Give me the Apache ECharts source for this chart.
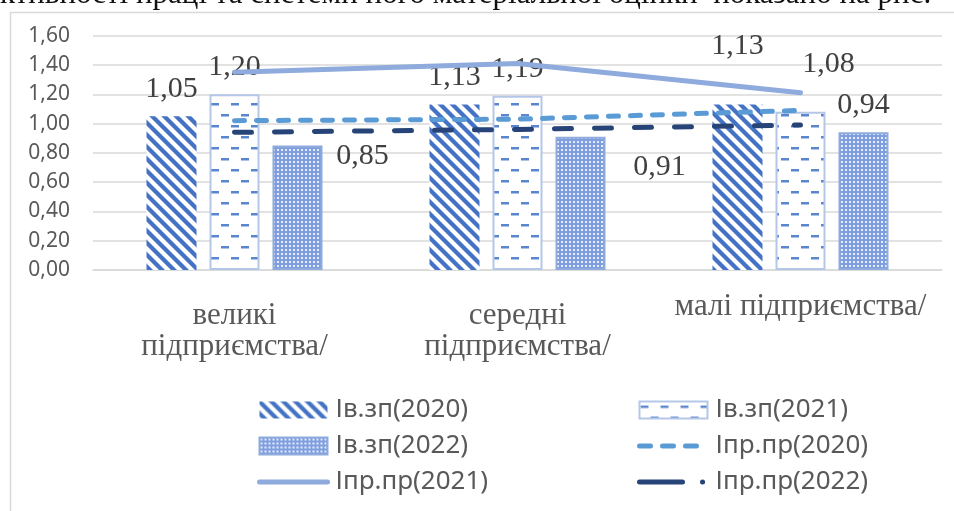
<!DOCTYPE html>
<html><head><meta charset="utf-8">
<script src="https://cdn.jsdelivr.net/npm/echarts@6/dist/echarts.min.js"></script>
<style>html,body{margin:0;padding:0;background:#fff}#c{width:954px;height:511px}</style>
</head><body><div id="c"></div>
<script>
// ---- data ----
const categories = ['великі\nпідприємства/', 'середні\nпідприємства/', 'малі підприємства/'];
const yMin = 0, yMax = 1.6, yStep = 0.2;
const ivzp2020 = [1.05, 1.13, 1.13];
const ivzp2021 = [1.20, 1.19, 1.08];
const ivzp2022 = [0.85, 0.91, 0.94];
const iprpr2020 = [1.02, 1.03, 1.09];
const iprpr2021 = [1.35, 1.41, 1.21];
const iprpr2022 = [0.94, 0.96, 0.99];
const names = ['Ів.зп(2020)', 'Ів.зп(2021)', 'Ів.зп(2022)', 'Іпр.пр(2020)', 'Іпр.пр(2021)', 'Іпр.пр(2022)'];
const headText = 'ктивності праці та системи його матеріальної оцінки  показано на рис.';

// ---- style (label nudges as placed in the original) ----
const labelNudge = [
  [[0, 0], [0, 0], [0, -31]],
  [[0, 0], [0, 0], [28, -21]],
  [[65, 38], [79, 57], [0, 0]]
];

function tile(w, h, draw) {
  const c = document.createElement('canvas'); c.width = w; c.height = h;
  const g = c.getContext('2d'); draw(g, w, h); return c;
}
const diag = tile(12, 12, (g, w, h) => {
  g.fillStyle = '#fff'; g.fillRect(0, 0, w, h);
  g.strokeStyle = '#4472C4'; g.lineWidth = 4.2;
  for (let k = -1; k <= 1; k++) { g.beginPath(); g.moveTo(-2, -2 + k * 12); g.lineTo(14, 14 + k * 12); g.stroke(); }
});
const dashes = tile(20, 22, (g, w, h) => {
  g.fillStyle = '#fff'; g.fillRect(0, 0, w, h);
  g.fillStyle = '#5A86D0';
  g.fillRect(1, 4, 8, 2.5); g.fillRect(11, 15, 8, 2.5);
});
const checker = tile(4, 4, (g, w, h) => {
  g.fillStyle = '#7E9EDF'; g.fillRect(0, 0, w, h);
  g.fillStyle = '#E6ECF9'; g.fillRect(1, 1, 2, 2);
});

const fmt = v => v.toFixed(2).replace('.', ',');
const serif = 'Liberation Serif, Times New Roman, serif';
const sans = 'Noto Sans, Open Sans, sans-serif';

function barSeries(idx, data, fill, border) {
  return {
    type: 'bar', name: names[idx], barWidth: 50, barGap: '26%',
    itemStyle: { color: { image: fill, repeat: 'repeat' }, borderColor: border || 'transparent', borderWidth: border ? 2 : 0 },
    label: { show: true, position: 'top', distance: 12, fontFamily: serif, fontSize: 30, color: '#404040', formatter: p => fmt(p.value) },
    data: data.map((v, i) => ({ value: v, label: { offset: labelNudge[idx][i] } })),
    z: 2
  };
}
function lineSeries(idx, data, color, type) {
  return {
    type: 'line', name: names[idx], data: data, symbol: 'none', z: 3,
    itemStyle: { color: color },
    lineStyle: { color: color, width: 5, type: type, cap: 'round' }
  };
}

const chart = echarts.init(document.getElementById('c'));
const legendBase = {
  orient: 'vertical', itemWidth: 68, itemHeight: 17, itemGap: 6, top: 390,
  textStyle: { fontFamily: sans, fontSize: 26, color: '#595959', lineHeight: 30, padding: [0, 0, 0, 3] }
};
const hideSym = { opacity: 0 };
chart.setOption({
  animation: false,
  backgroundColor: '#fff',
  grid: { left: 93, right: 12, top: 35.7, bottom: 241, outerBoundsMode: 'none', containLabel: false },
  xAxis: {
    type: 'category',
    data: categories.map((c, i) => i === 2 ? { value: c, textStyle: { lineHeight: 13 } } : c),
    axisLine: { lineStyle: { color: '#D9D9D9', width: 1.5 } },
    axisTick: { show: false },
    axisLabel: { interval: 0, fontFamily: serif, fontSize: 31, color: '#595959', lineHeight: 31, margin: 30 }
  },
  yAxis: {
    type: 'value', min: yMin, max: yMax, interval: yStep,
    axisLine: { show: false }, axisTick: { show: false },
    splitLine: { lineStyle: { color: '#D9D9D9', width: 1.5 } },
    axisLabel: { fontFamily: sans, fontSize: 21, color: '#595959', margin: 23, formatter: v => fmt(v) }
  },
  legend: [
    Object.assign({}, legendBase, { left: 252, data: [
      { name: names[0], icon: 'rect' },
      { name: names[2], icon: 'rect' },
      { name: names[4], itemStyle: hideSym, lineStyle: { width: 5, cap: 'round' } }
    ] }),
    Object.assign({}, legendBase, { left: 632, data: [
      { name: names[1], icon: 'rect' },
      { name: names[3], itemStyle: hideSym, lineStyle: { width: 5, type: [11, 12], cap: 'round' } },
      { name: names[5], itemStyle: hideSym, lineStyle: { width: 5, type: [43, 20, 0.1, 20], cap: 'round' } }
    ] })
  ],
  graphic: [
    { type: 'rect', left: 8, top: 10, shape: { width: 980, height: 540 }, style: { fill: 'none', stroke: '#D9D9D9', lineWidth: 1.5 }, silent: true },
    { type: 'text', x: 0, y: -5, style: { text: headText, font: '31px ' + serif, fill: '#111', verticalAlign: 'middle', align: 'left' }, silent: true }
  ],
  series: [
    barSeries(0, ivzp2020, diag, null),
    barSeries(1, ivzp2021, dashes, '#B4C7E7'),
    barSeries(2, ivzp2022, checker, '#8FAADC'),
    lineSeries(3, iprpr2020, '#5B9BD5', [10, 12]),
    lineSeries(4, iprpr2021, '#8FAADC', 'solid'),
    lineSeries(5, iprpr2022, '#264478', [17, 23])
  ]
});
</script></body></html>
